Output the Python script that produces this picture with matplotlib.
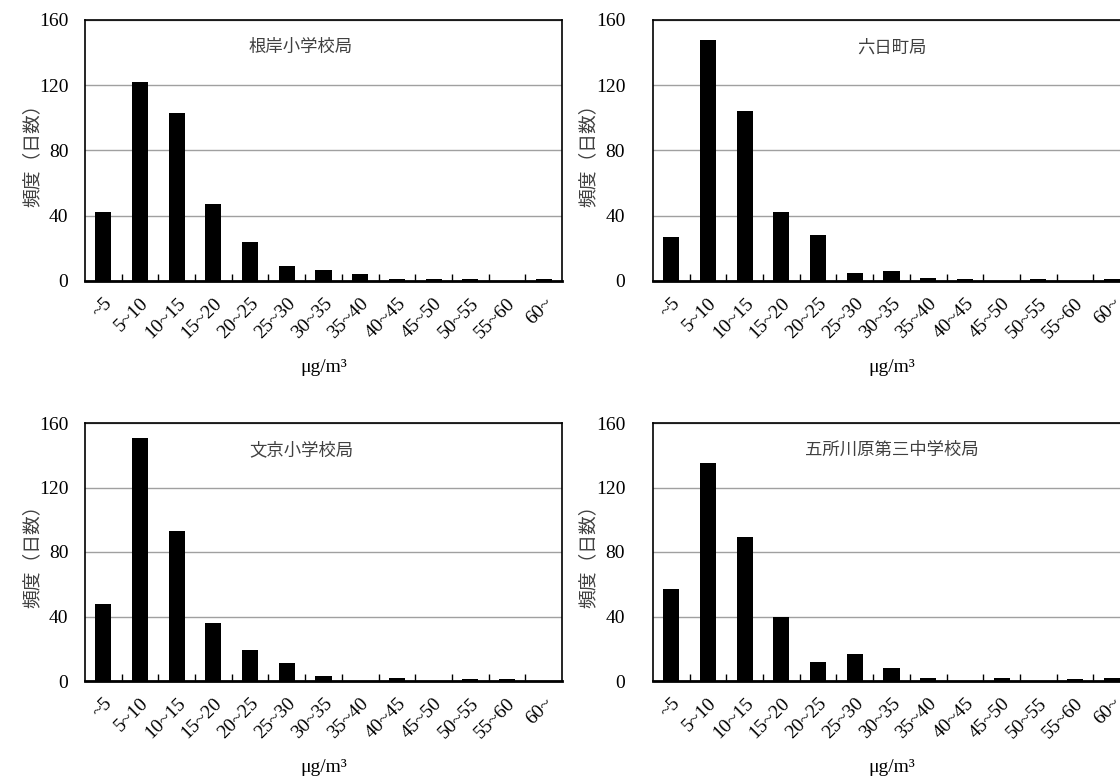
import numpy as np
import matplotlib
matplotlib.use('Agg')
import matplotlib.pyplot as plt

# categories (ug/m3 bins)
bins = ['~5', '5~10', '10~15', '15~20', '20~25', '25~30', '30~35',
        '35~40', '40~45', '45~50', '50~55', '55~60', '60~']

# station names
stations = ['根岸小学校局', '六日町局', '文京小学校局', '五所川原第三中学校局']

# frequency (days) per bin
negishi = [42, 122, 103, 47, 24, 9, 7, 4, 1, 1, 1, 0, 1]
muikamachi = [27, 148, 104, 42, 28, 5, 6, 2, 1, 0, 1, 0, 1]
bunkyo = [48, 151, 93, 36, 19, 11, 3, 0, 2, 0, 1, 1, 0]
goshogawara = [57, 135, 89, 40, 12, 17, 8, 2, 0, 2, 0, 1, 2]

series = [negishi, muikamachi, bunkyo, goshogawara]
yticks = [0, 40, 80, 120, 160]

serif = 'Liberation Serif'
jp = ['Noto Sans CJK JP', 'DejaVu Sans']
txtcol = '#404040'

fig = plt.figure(figsize=(11.2, 7.78), dpi=100)

W, H = 1120.0, 778.0
# axes boxes in pixels: left, top, right, bottom
boxes = [(85, 20, 562, 281), (653, 20, 1130, 281),
         (85, 423, 562, 681), (653, 423, 1130, 681)]
ypads = [12, 20, 12, 20]
ylab_x = [-0.088, -0.115, -0.088, -0.115]
title_x = [0.453, 0.50, 0.453, 0.50]

x = np.arange(len(bins))
for i, vals in enumerate(series):
    l, t, r, b = boxes[i]
    ax = fig.add_axes([l / W, 1 - b / H, (r - l) / W, (b - t) / H])
    ax.bar(x, vals, width=0.44, color='black', zorder=3)
    ax.set_xlim(-0.5, len(bins) - 0.5)
    ax.set_ylim(0, 160)
    ax.set_yticks(yticks)
    ax.set_yticklabels([str(v) for v in yticks], fontfamily=serif, fontsize=14)
    ax.tick_params(axis='y', length=0, pad=ypads[i])
    ax.yaxis.grid(True, color='#a0a0a0', linewidth=1.0, zorder=0)
    ax.set_axisbelow(True)

    ax.set_xticks(x)
    ax.set_xticklabels(bins, rotation=45, ha='right', va='top',
                       rotation_mode='anchor', fontfamily=serif, fontsize=14)
    ax.tick_params(axis='x', which='major', length=0, pad=10)
    ax.set_xticks(np.arange(len(bins) - 1) + 0.5, minor=True)
    ax.tick_params(axis='x', which='minor', direction='in', length=5,
                   width=1.0, color='black')

    for sp in ax.spines.values():
        sp.set_linewidth(1.2)
        sp.set_color('black')
    ax.spines['bottom'].set_linewidth(2.0)

    ax.set_xlabel('μg/m³', fontfamily=serif, fontsize=14, labelpad=12)
    ax.set_ylabel('頻度（日数）', fontfamily=jp, fontsize=13.5, color=txtcol)
    ax.yaxis.set_label_coords(ylab_x[i], 0.5)
    ax.text(title_x[i], 0.895, stations[i], transform=ax.transAxes,
            ha='center', va='center', fontfamily=jp, fontsize=12.5, color=txtcol)

fig.savefig('out.png', dpi=100)
